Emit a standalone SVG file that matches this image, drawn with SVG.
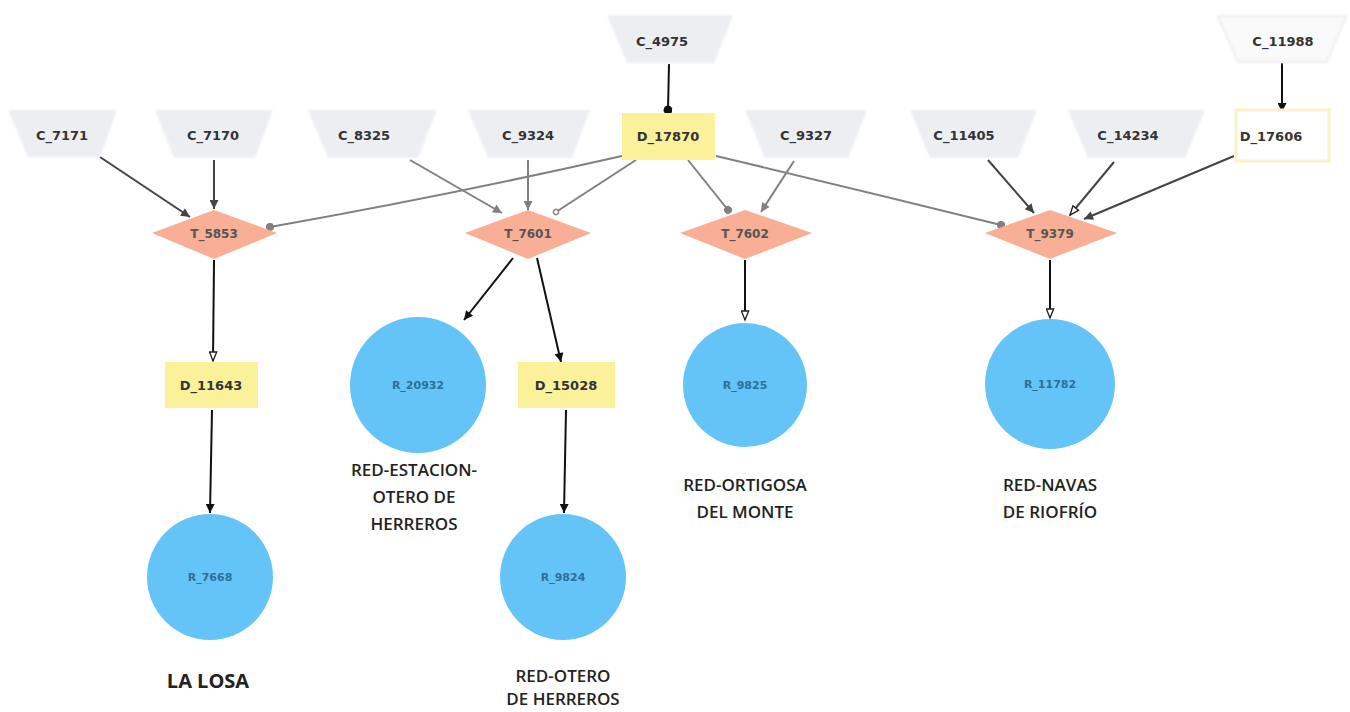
<svg xmlns="http://www.w3.org/2000/svg" width="1350" height="712" viewBox="0 0 1350 712">
<style>
.c{fill:#eceef2;filter:url(#soft)}
.cf{fill:#fafafa;stroke:#eeeeee;stroke-width:2;filter:url(#soft)}
.d{fill:#fbf19b}
.d2{fill:#ffffff;stroke:#f7f4c8;stroke-width:3}
.t{fill:#f9ae96}
.r{fill:#64c4f8}
.nt{font-family:"DejaVu Sans",sans-serif;font-weight:bold;font-size:13px;fill:#333;text-anchor:middle;dominant-baseline:central}
.rt{font-family:"DejaVu Sans",sans-serif;font-weight:bold;font-size:11px;fill:#2d6f97;text-anchor:middle;dominant-baseline:central}
.tt{font-family:"DejaVu Sans",sans-serif;font-weight:bold;font-size:12px;fill:#555;text-anchor:middle;dominant-baseline:central}
.lb{font-family:"Open Sans",sans-serif;font-weight:600;font-size:17px;fill:#222;text-anchor:middle}
.big{font-family:"Open Sans",sans-serif;font-weight:700;font-size:20px;fill:#222;text-anchor:middle}
.e{fill:none;stroke-width:2}
.k{stroke:#111}
.g{stroke:#808080}
.dk{stroke:#444}
</style>
<defs>
<filter id="soft" x="-10%" y="-20%" width="120%" height="140%"><feGaussianBlur stdDeviation="1.2"/></filter>
<marker id="ak" viewBox="0 0 10 10" refX="10" refY="5" markerWidth="11" markerHeight="9" markerUnits="userSpaceOnUse" orient="auto"><path d="M0,0 L10,5 L0,10 Z" fill="#111"/></marker>
<marker id="ad" viewBox="0 0 10 10" refX="10" refY="5" markerWidth="11" markerHeight="9" markerUnits="userSpaceOnUse" orient="auto"><path d="M0,0 L10,5 L0,10 Z" fill="#444"/></marker>
<marker id="ag" viewBox="0 0 10 10" refX="10" refY="5" markerWidth="11" markerHeight="9" markerUnits="userSpaceOnUse" orient="auto"><path d="M0,0 L10,5 L0,10 Z" fill="#808080"/></marker>
<marker id="ah" viewBox="0 0 12 10" refX="11" refY="5" markerWidth="12" markerHeight="9" markerUnits="userSpaceOnUse" orient="auto"><path d="M1,1 L11,5 L1,9 Z" fill="#fff" stroke="#222" stroke-width="1.5"/></marker>
<marker id="dg" viewBox="0 0 10 10" refX="5" refY="5" markerWidth="8" markerHeight="8" markerUnits="userSpaceOnUse" orient="auto"><circle cx="5" cy="5" r="5" fill="#808080"/></marker>
<marker id="dk" viewBox="0 0 10 10" refX="5" refY="5" markerWidth="9" markerHeight="9" markerUnits="userSpaceOnUse" orient="auto"><circle cx="5" cy="5" r="5" fill="#111"/></marker>
<marker id="og" viewBox="0 0 10 10" refX="5" refY="5" markerWidth="7" markerHeight="7" markerUnits="userSpaceOnUse" orient="auto"><circle cx="5" cy="5" r="3.6" fill="#fff" stroke="#808080" stroke-width="2"/></marker>
</defs>

<g id="connectors">
<path class="e dk" d="M100,157 L190,217" marker-end="url(#ad)"/>
<path class="e dk" d="M214,160 L214,209" marker-end="url(#ad)"/>
<path class="e g" d="M622,156 Q450,195 270,227" marker-end="url(#dg)"/>
<path class="e g" d="M410,160 L502,213" marker-end="url(#ag)"/>
<path class="e g" d="M528,160 L528,210" marker-end="url(#ag)"/>
<path class="e g" d="M636,160 L556,212" marker-end="url(#og)"/>
<path class="e k" d="M669,64 L668,110" marker-end="url(#dk)"/>
<path class="e g" d="M688,160 L728,210" marker-end="url(#dg)"/>
<path class="e g" d="M794,161 L761,212" marker-end="url(#ag)"/>
<path class="e g" d="M716,156 Q860,190 1001,225" marker-end="url(#dg)"/>
<path class="e dk" d="M988,160 L1034,213" marker-end="url(#ad)"/>
<path class="e dk" d="M1114,162 L1070,215" marker-end="url(#ah)"/>
<path class="e dk" d="M1234,156 L1084,219" marker-end="url(#ad)"/>
<path class="e k" d="M1282,63 L1282,112" marker-end="url(#ak)"/>
<path class="e k" d="M214,260 L213,361" marker-end="url(#ah)"/>
<path class="e k" d="M212,410 L210,513" marker-end="url(#ak)"/>
<path class="e k" d="M513,258 L464,320" marker-end="url(#ak)"/>
<path class="e k" d="M537,258 L561,362" marker-end="url(#ak)"/>
<path class="e k" d="M566,410 L564,513" marker-end="url(#ak)"/>
<path class="e k" d="M745,260 L745,320" marker-end="url(#ah)"/>
<path class="e k" d="M1050,260 L1050,318" marker-end="url(#ah)"/>
</g>

<g id="C_7171"><polygon class="c" points="8,110 117,110 100,157 28,157"/><text class="nt" x="62" y="135">C_7171</text></g>
<g id="C_7170"><polygon class="c" points="155,110 273,110 255,158 174,158"/><text class="nt" x="213" y="135">C_7170</text></g>
<g id="C_8325"><polygon class="c" points="308,110 437,110 418,158 328,158"/><text class="nt" x="364" y="135">C_8325</text></g>
<g id="C_9324"><polygon class="c" points="468,110 590,110 572,158 488,158"/><text class="nt" x="528" y="135">C_9324</text></g>
<g id="C_4975"><polygon class="c" points="607,15 733,15 714,63 627,63"/><text class="nt" x="662" y="41">C_4975</text></g>
<g id="C_9327"><polygon class="c" points="745,110 867,110 848,158 765,158"/><text class="nt" x="806" y="135">C_9327</text></g>
<g id="C_11405"><polygon class="c" points="910,110 1037,110 1018,158 930,158"/><text class="nt" x="964" y="135">C_11405</text></g>
<g id="C_14234"><polygon class="c" points="1068,110 1205,110 1185,158 1088,158"/><text class="nt" x="1128" y="135">C_14234</text></g>
<g id="C_11988"><polygon class="cf" points="1218,16 1346,16 1327,62 1238,62"/><text class="nt" x="1283" y="41">C_11988</text></g>

<g id="D_17870"><rect class="d" x="622" y="113" width="93" height="47"/><text class="nt" x="668" y="136">D_17870</text></g>
<g id="D_17606"><rect class="d2" x="1236" y="110" width="93" height="51"/><text class="nt" x="1271" y="136">D_17606</text></g>
<g id="D_11643"><rect class="d" x="165" y="362" width="93" height="46"/><text class="nt" x="211" y="385">D_11643</text></g>
<g id="D_15028"><rect class="d" x="518" y="362" width="97" height="46"/><text class="nt" x="566" y="385">D_15028</text></g>

<g id="T_5853"><polygon class="t" points="152,233 214,210 277,233 214,259"/><text class="tt" x="214" y="234">T_5853</text></g>
<g id="T_7601"><polygon class="t" points="465,233 528,210 591,233 528,259"/><text class="tt" x="528" y="234">T_7601</text></g>
<g id="T_7602"><polygon class="t" points="680,233 745,210 812,233 745,259"/><text class="tt" x="745" y="234">T_7602</text></g>
<g id="T_9379"><polygon class="t" points="985,233 1050,210 1117,233 1050,259"/><text class="tt" x="1050" y="234">T_9379</text></g>

<g id="R_20932"><circle class="r" cx="418" cy="385" r="68"/><text class="rt" x="418" y="385">R_20932</text>
<text class="lb" x="414" y="476">RED-ESTACION-</text><text class="lb" x="414" y="503">OTERO DE</text><text class="lb" x="414" y="530">HERREROS</text></g>
<g id="R_9825"><circle class="r" cx="745" cy="385" r="62"/><text class="rt" x="745" y="385">R_9825</text>
<text class="lb" x="745" y="491">RED-ORTIGOSA</text><text class="lb" x="745" y="518">DEL MONTE</text></g>
<g id="R_11782"><circle class="r" cx="1050" cy="384" r="65"/><text class="rt" x="1050" y="384">R_11782</text>
<text class="lb" x="1050" y="491">RED-NAVAS</text><text class="lb" x="1050" y="518">DE RIOFRÍO</text></g>
<g id="R_7668"><circle class="r" cx="210" cy="577" r="63"/><text class="rt" x="210" y="577">R_7668</text>
<text class="big" x="208" y="688">LA LOSA</text></g>
<g id="R_9824"><circle class="r" cx="563" cy="577" r="63"/><text class="rt" x="563" y="577">R_9824</text>
<text class="lb" x="563" y="682">RED-OTERO</text><text class="lb" x="563" y="705" font-size="16.5">DE HERREROS</text></g>
</svg>
